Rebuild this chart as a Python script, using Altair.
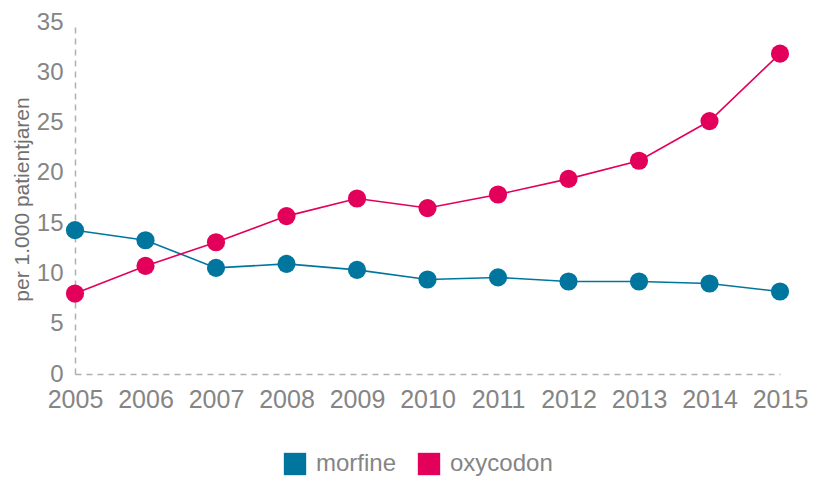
import altair as alt
import pandas as pd

years = [2005, 2006, 2007, 2008, 2009, 2010, 2011, 2012, 2013, 2014, 2015]
morfine = [14.3, 13.3, 10.55, 10.95, 10.35, 9.4, 9.6, 9.2, 9.2, 9.0, 8.2]
oxycodon = [8.0, 10.75, 13.1, 15.7, 17.45, 16.5, 17.85, 19.4, 21.2, 25.15, 31.85]
series = ["morfine", "oxycodon"]
colors = ["#00769f", "#e3005a"]

rows = []
for y, m, o in zip(years, morfine, oxycodon):
    rows.append({"jaar": y, "serie": "morfine", "waarde": m})
    rows.append({"jaar": y, "serie": "oxycodon", "waarde": o})
df = pd.DataFrame(rows)

gray = "#858585"
font = "Liberation Sans"

x = alt.X("jaar:Q", scale=alt.Scale(domain=[2005, 2015], nice=False, zero=False),
          axis=alt.Axis(values=years, format="d", title=None, grid=False, ticks=False,
                        domainDash=[6, 5], domainColor="#b0b0b0", domainWidth=1.5,
                        labelFontSize=25, labelColor=gray, labelFont=font, labelPadding=13,
                        labelFlush=False))
y = alt.Y("waarde:Q", scale=alt.Scale(domain=[0, 35], nice=False),
          axis=alt.Axis(values=[0, 5, 10, 15, 20, 25, 30, 35], title="per 1.000 patientjaren",
                        grid=False, ticks=False, domainDash=[6, 5], domainColor="#b0b0b0",
                        domainWidth=1.5, labelFontSize=24, labelColor=gray, labelFont=font,
                        labelPadding=12, titleFontSize=21, titleFont=font, titleColor="#707070",
                        titleFontWeight="normal", titleX=-53, titleY=177, titleAngle=-90,
                        titleBaseline="middle", titleAlign="center"))
color = alt.Color("serie:N", scale=alt.Scale(domain=series, range=colors),
                  legend=alt.Legend(title=None, orient="none", legendX=208, legendY=430,
                                    direction="horizontal", symbolType="square", symbolSize=500,
                                    symbolStrokeWidth=0, symbolOpacity=1, labelFontSize=24,
                                    labelColor=gray, labelFont=font, columnPadding=20,
                                    labelOffset=9, labelLimit=300))

base = alt.Chart(df)
lines = base.mark_line(strokeWidth=1.6).encode(x=x, y=y, color=color)
points = base.mark_circle(size=330, opacity=1).encode(x=x, y=y, color=color)

chart = (lines + points).properties(
    width=705, height=352,
    autosize=alt.AutoSizeParams(type="none"),
    padding={"left": 67, "top": 14, "right": 37, "bottom": 103},
).configure_view(stroke=None)

chart.save("out.html", embed_options={"renderer": "svg", "actions": False})
